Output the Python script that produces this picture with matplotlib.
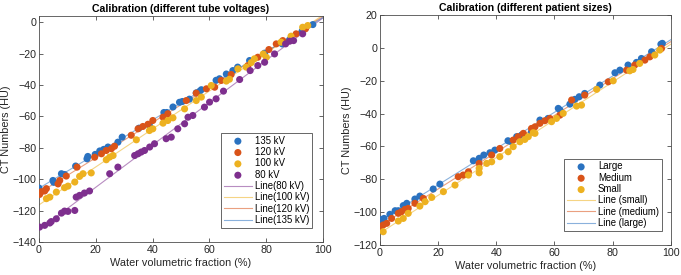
import numpy as np
import matplotlib
matplotlib.use("Agg")
import matplotlib.pyplot as plt

plt.rcParams['font.family'] = ['Liberation Sans', 'DejaVu Sans']

# ---------------- Left panel data (tube voltages) ----------------
kv135_x = [0, 4.9, 5.2, 7.9, 9, 12.9, 16.9, 17.2, 19.8, 21.4, 22.8, 24.3, 27.8, 29.3, 35.2, 38.9,
           44, 45, 47.2, 49.5, 50.5, 53, 55.4, 56.6, 57.2, 62.4, 63.6, 66, 68.3, 70, 74.2, 79.5,
           85.7, 88.3, 92.7, 96.5]
kv135_y = [-105.6, -100.8, -102, -96.5, -97, -91.6, -87, -85.5, -84.2, -82, -81, -79.5, -76.4, -73.2,
           -67.5, -65.8, -57.5, -57.5, -54, -51, -50.5, -49, -45, -44, -43, -37, -36, -33, -30.8, -28.6,
           -24.4, -19.7, -13.8, -11.2, -5.7, -1.5]

kv120_x = [0.2, 0.8, 2, 2.6, 6.7, 7.3, 9.6, 13.4, 19.6, 22, 23.7, 25.5, 26.6, 32.5, 34.9, 36.6,
           38.4, 40.1, 43.7, 45.4, 51.9, 55.4, 59, 61.9, 64.2, 67.7, 73.6, 77.1, 81, 83.6, 85.9,
           90.6, 93.9]
kv120_y = [-109.7, -108, -107.5, -106, -103, -100.8, -98, -92.3, -86, -83.8, -81.7, -80.6, -79, -72,
           -67.9, -66.4, -65, -62.6, -60.5, -58.3, -49.9, -45.2, -42.4, -41.4, -37.1, -33.3, -27.6,
           -22.3, -17.4, -13.8, -11.7, -7.4, -4.2]

kv100_x = [2.6, 3.8, 6.1, 9, 10.2, 12.6, 14.3, 15.5, 18.4, 23.7, 24.9, 26.1, 34.3, 38.9, 40.1, 43.7,
           45.4, 47.2, 51.3, 55.4, 57.2, 60.7, 66, 67.1, 70.1, 73, 74.8, 75.9, 79, 80.1, 85.3, 88.8,
           92.9, 94.7]
kv100_y = [-112.4, -111.4, -108.2, -105.4, -104.4, -101.8, -98.2, -96.5, -96, -87.6, -85.9, -84.9,
           -74.9, -69, -67.9, -64.3, -62.6, -60.9, -55.2, -49.9, -47.7, -40.3, -37.5, -36.3, -29.7,
           -28.6, -25.7, -23.3, -20.2, -22.3, -12.7, -8.9, -3.2, -2.1]

kv80_x = [0.2, 2, 3.8, 4.3, 6.1, 7.9, 9, 10.2, 12.6, 13.1, 14.3, 16, 17.8, 24.9, 27.8, 33.7, 34.9,
          36, 37.2, 39, 40.7, 44.8, 46.6, 48.9, 51.3, 52.5, 54.2, 58.3, 60.1, 62.4, 65, 70.7, 74.4,
          77.1, 79.5, 83, 86.9, 88.3, 89.7, 92.9]
kv80_y = [-130.5, -129.4, -127.9, -127, -125.2, -121.6, -120.3, -120.5, -119.9, -111.4, -110.3,
          -108.8, -107.5, -96.5, -92.3, -84.9, -83.8, -82.7, -81.7, -79.5, -77.4, -74.2, -73.2,
          -67.9, -64.7, -60.5, -59.4, -54.1, -50.9, -48.8, -43.9, -36.5, -30.8, -27.6, -25.5,
          -20.2, -13.8, -12.1, -11.7, -7.4]

# ---------------- Right panel data (patient sizes) ----------------
large_x = [0.6, 1.4, 3.4, 5.2, 6.3, 8, 9.2, 12, 13.7, 18.3, 20.6, 32.1, 34.1, 35.7, 37.8, 39.5,
           44, 45, 47, 48.7, 52.1, 55, 57.8, 61.3, 61.9, 65.3, 67, 68.5, 70.4, 75.6, 80.8, 82.5,
           85.3, 88.2, 89.9, 93.4, 96.6, 97.1]
large_y = [-104.4, -103.8, -101.3, -99.1, -99.1, -96, -94.6, -92, -90.2, -85.9, -82.9, -68.7, -67.2,
           -65.2, -63.8, -62.2, -56.5, -57, -54, -53, -51, -43.9, -42.9, -36.8, -37.8, -34.2, -31.3,
           -29.7, -27.7, -22.6, -15.1, -13.5, -10.4, -8.8, -6.4, -2.3, 2.3, 2.8]

medium_x = [0, 1.1, 2.3, 4, 6.3, 7.4, 8.6, 9.7, 12, 14.9, 26.9, 28.6, 30.4, 34.1, 38.4, 41.2, 45.8,
            47.5, 49.3, 52.1, 53.3, 55, 56.7, 58.4, 61.9, 65.9, 70.4, 78.5, 84.8, 87.6, 91.1, 92.8,
            96.8]
medium_y = [-108.8, -107.8, -106.8, -103.8, -100.7, -99.7, -98.3, -97.7, -94.6, -91.6, -78.4, -77.4,
            -75.4, -70.3, -65.2, -61.2, -56.1, -54, -52, -49, -48, -45.9, -44.3, -42.9, -40.9, -31.7,
            -28.7, -20.6, -13.5, -10.4, -7.4, -5.4, -0.3]

small_x = [1.1, 6.3, 8, 9.7, 13.7, 15.5, 17.8, 21.8, 25.8, 30.4, 34.1, 34.1, 36.7, 38.4, 41.2, 44.1,
           45.8, 48.1, 49.8, 51, 52.7, 53.3, 59, 60.7, 63, 67.6, 69.3, 74.5, 80.2, 85.9, 87, 89.3,
           94.5, 96.2]
small_y = [-111.9, -105.4, -103.8, -100.7, -96.3, -93.6, -91, -87.5, -83.5, -77.4, -73.3, -76, -70.3,
           -69.3, -66.2, -63.2, -60.1, -57.1, -55.7, -54, -51.6, -52, -44.9, -42.9, -39.8, -35.4,
           -34.8, -25.2, -20, -13.9, -13.1, -9.4, -4.3, -1.3]

blue = '#2A72C0'
orange = '#D95319'
yellow = '#EDB120'
purple = '#7E2F8E'

fig = plt.figure(figsize=(6.81, 2.75), dpi=100)
ax1 = fig.add_axes([0.0573, 0.12, 0.4167, 0.822])
ax2 = fig.add_axes([0.558, 0.109, 0.427, 0.836])

xx = np.array([0, 100])
ms = 26


def style(ax):
    ax.set_xlim(0, 100)
    ax.tick_params(direction='in', length=3, width=0.5, labelsize=7.7, colors='#262626',
                   top=True, right=True, pad=2)
    for s in ax.spines.values():
        s.set_linewidth(0.6)
        s.set_color('#4d4d4d')
    ax.set_xlabel('Water volumetric fraction (%)', fontsize=7.8, color='#262626', labelpad=2)
    ax.set_ylabel('CT Numbers (HU)', fontsize=7.8, color='#262626', labelpad=1)


def legend(ax, anchor):
    leg = ax.legend(loc='lower right', bbox_to_anchor=anchor, fontsize=6.9, frameon=True,
                    fancybox=False, edgecolor='#4d4d4d', handlelength=2.9, handletextpad=0.3,
                    labelspacing=0.14, borderpad=0.3, borderaxespad=0, framealpha=1)
    leg.get_frame().set_linewidth(0.6)
    return leg


# Left panel
for xs, ys, c, lab in [(kv135_x, kv135_y, blue, '135 kV'), (kv120_x, kv120_y, orange, '120 kV'),
                       (kv100_x, kv100_y, yellow, '100 kV'), (kv80_x, kv80_y, purple, '80 kV')]:
    ax1.scatter(xs, ys, s=ms, color=c, edgecolors='none', label=lab, zorder=3)
for xs, ys, c, lab in [(kv80_x, kv80_y, purple, 'Line(80 kV)'), (kv100_x, kv100_y, yellow, 'Line(100 kV)'),
                       (kv120_x, kv120_y, orange, 'Line(120 kV)'), (kv135_x, kv135_y, blue, 'Line(135 kV)')]:
    p = np.polyfit(xs, ys, 1)
    ax1.plot(xx, np.polyval(p, xx), color=c, lw=0.8, alpha=0.55, label=lab, zorder=2)
ax1.set_ylim(-140, 4)
ax1.set_yticks(np.arange(-140, 1, 20))
ax1.set_xticks(np.arange(0, 101, 20))
ax1.set_title('Calibration (different tube voltages)', fontsize=7.6, fontweight='bold', pad=3)
style(ax1)
legend(ax1, (0.962, 0.062))

# Right panel
for xs, ys, c, lab in [(large_x, large_y, blue, 'Large'), (medium_x, medium_y, orange, 'Medium'),
                       (small_x, small_y, yellow, 'Small')]:
    ax2.scatter(xs, ys, s=ms, color=c, edgecolors='none', label=lab, zorder=3)
for xs, ys, c, lab in [(small_x, small_y, yellow, 'Line (small)'), (medium_x, medium_y, orange, 'Line (medium)'),
                       (large_x, large_y, blue, 'Line (large)')]:
    p = np.polyfit(xs, ys, 1)
    ax2.plot(xx, np.polyval(p, xx), color=c, lw=0.8, alpha=0.55, label=lab, zorder=2)
ax2.set_ylim(-120, 20)
ax2.set_yticks(np.arange(-120, 21, 20))
ax2.set_xticks(np.arange(0, 101, 20))
ax2.set_title('Calibration (different patient sizes)', fontsize=7.6, fontweight='bold', pad=3)
style(ax2)
legend(ax2, (0.969, 0.061))

fig.savefig('out.png', dpi=100)
